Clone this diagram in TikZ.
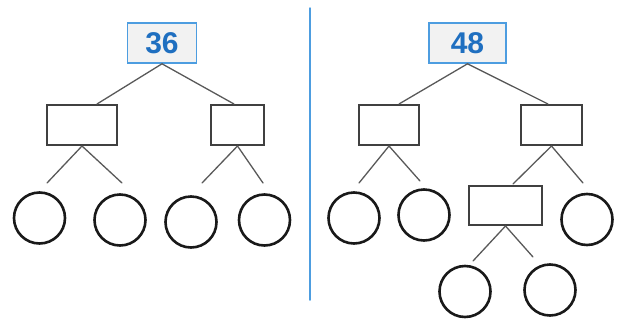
\documentclass[tikz,border=0pt]{standalone}
\usepackage{fontspec}
\setmainfont{Liberation Sans}
\definecolor{numblue}{HTML}{1F6FC0}
\definecolor{rimblue}{HTML}{4D9DE0}
\definecolor{boxgray}{HTML}{F2F2F2}

\begin{document}
\begin{tikzpicture}[x=1pt, y=-1pt, line cap=round,
                    topbox/.style={draw=rimblue, fill=boxgray, line width=1.6pt,
                                   minimum width=69pt, minimum height=40pt, inner sep=0pt,
                                   text=numblue, font=\fontsize{30}{30}\selectfont\bfseries},
                    factor/.style={draw=black!75, line width=2pt, minimum height=40pt, inner sep=0pt},
                    leaf/.style={circle, draw=black!90, line width=2.6pt, minimum size=51pt, inner sep=0pt},
                    branch/.style={draw=black!65, line width=1.3pt}
                   ]
\useasboundingbox (0,0) rectangle (619,322);

% divider
\draw [rimblue, line width=1.5pt] (310,8) -- (310,300);

% left tree
\node [topbox] (t36) at (162,43) {36};
\node [factor, minimum width=70pt] (a1) at (82,125) {};
\node [factor, minimum width=53pt] (a2) at (237.5,125) {};
\foreach \name/\x/\y in {c1/39.5/218, c2/120/220, c3/191/222, c4/264.5/220}
  \node [leaf] (\name) at (\x,\y) {};

\coordinate (a1in) at (97,104);
\coordinate (a2in) at (234,104);
\coordinate (c1in) at (47,183);
\coordinate (c2in) at (122,183);
\coordinate (c3in) at (202,183);
\coordinate (c4in) at (263,183);

\draw [branch] (t36.south) -- (a1in);
\draw [branch] (t36.south) -- (a2in);
\draw [branch] (a1.south) -- (c1in);
\draw [branch] (a1.south) -- (c2in);
\draw [branch] (a2.south) -- (c3in);
\draw [branch] (a2.south) -- (c4in);

% right tree
\node [topbox, minimum width=77pt] (t48) at (467.5,43) {48};
\node [factor, minimum width=60pt] (b1) at (389,125) {};
\node [factor, minimum width=61pt] (b2) at (551.5,125) {};
\node [factor, minimum width=73pt, minimum height=39pt] (b3) at (505.5,205.5) {};
\foreach \name/\x/\y in {d1/354/218, d2/424/215, d3/587/219.5, d4/465/291.5, d5/550/290}
  \node [leaf] (\name) at (\x,\y) {};

\coordinate (b1in) at (399,104);
\coordinate (b2in) at (548,104);
\coordinate (d1in) at (359,183);
\coordinate (d2in) at (420,181);
\coordinate (b3in) at (513,184);
\coordinate (d3in) at (583,183);
\coordinate (d4in) at (473,261);
\coordinate (d5in) at (533,257);

\draw [branch] (t48.south) -- (b1in);
\draw [branch] (t48.south) -- (b2in);
\draw [branch] (b1.south) -- (d1in);
\draw [branch] (b1.south) -- (d2in);
\draw [branch] (b2.south) -- (b3in);
\draw [branch] (b2.south) -- (d3in);
\draw [branch] (b3.south) -- (d4in);
\draw [branch] (b3.south) -- (d5in);
\end{tikzpicture}
\end{document}
